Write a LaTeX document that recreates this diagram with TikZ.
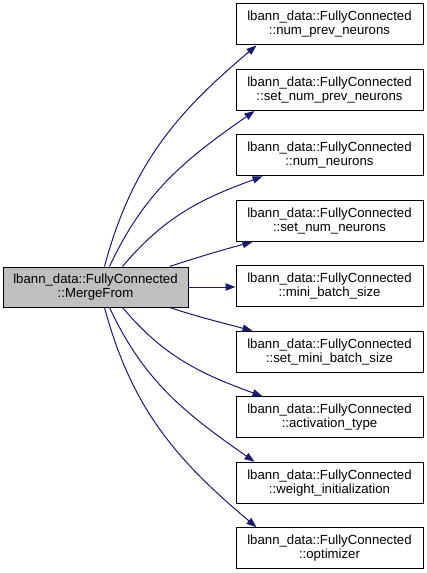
\documentclass[tikz,border=0pt]{standalone}
\usepackage{fontspec}
\setmainfont{Liberation Sans}
\usetikzlibrary{arrows.meta,positioning}
\definecolor{edgeblue}{HTML}{191970}
\definecolor{curfill}{HTML}{BFBFBF}

\begin{document}
\begin{tikzpicture}[
  x=0.75pt,y=0.75pt,
  font=\fontsize{9.9}{10.5}\selectfont,
  fn/.style={draw,line width=0.75pt,align=center,inner sep=0pt,minimum width=140.25pt,minimum height=30.75pt},
  cur/.style={fn,fill=curfill,minimum width=138.75pt,minimum height=30pt},
  call/.style={-{Triangle[length=7.5pt,width=5.5pt]},edgeblue,line width=0.75pt}]
\useasboundingbox (0,0) rectangle (427,-573);
\node[cur] (mf) at (95.5,-287) {lbann\_data::FullyConnected\\::MergeFrom};
\node[fn] (n1) at (329.5,-24.5) {lbann\_data::FullyConnected\\::num\_prev\_neurons};
\node[fn,below=17.6pt of n1] (n2) {lbann\_data::FullyConnected\\::set\_num\_prev\_neurons};
\node[fn,below=17.6pt of n2] (n3) {lbann\_data::FullyConnected\\::num\_neurons};
\node[fn,below=17.6pt of n3] (n4) {lbann\_data::FullyConnected\\::set\_num\_neurons};
\node[fn,below=17.6pt of n4] (n5) {lbann\_data::FullyConnected\\::mini\_batch\_size};
\node[fn,below=17.6pt of n5] (n6) {lbann\_data::FullyConnected\\::set\_mini\_batch\_size};
\node[fn,below=17.6pt of n6] (n7) {lbann\_data::FullyConnected\\::activation\_type};
\node[fn,below=17.6pt of n7] (n8) {lbann\_data::FullyConnected\\::weight\_initialization};
\node[fn,below=17.6pt of n8] (n9) {lbann\_data::FullyConnected\\::optimizer};
% calls going up
\foreach \t/\sx/\ex/\o/\i in {n1/76.5/15.75/75/220,n2/80.25/14.25/65/215,n3/90/20.25/50/200,n4/125.25/12.75/18/195}
  \draw[call] ([xshift=\sx pt]mf.north west) to[out=\o,in=\i] ([xshift=\ex pt]\t.south west);
% straight call
\draw[call] (mf.east) -- (mf.east -| n5.west);
% calls going down
\foreach \t/\sx/\ex/\o/\i in {n6/125.25/12.75/-18/165,n7/90/20.25/-50/160,n8/80.25/14.25/-65/145,n9/76.5/15.75/-75/140}
  \draw[call] ([xshift=\sx pt]mf.south west) to[out=\o,in=\i] ([xshift=\ex pt]\t.north west);
\end{tikzpicture}
\end{document}
